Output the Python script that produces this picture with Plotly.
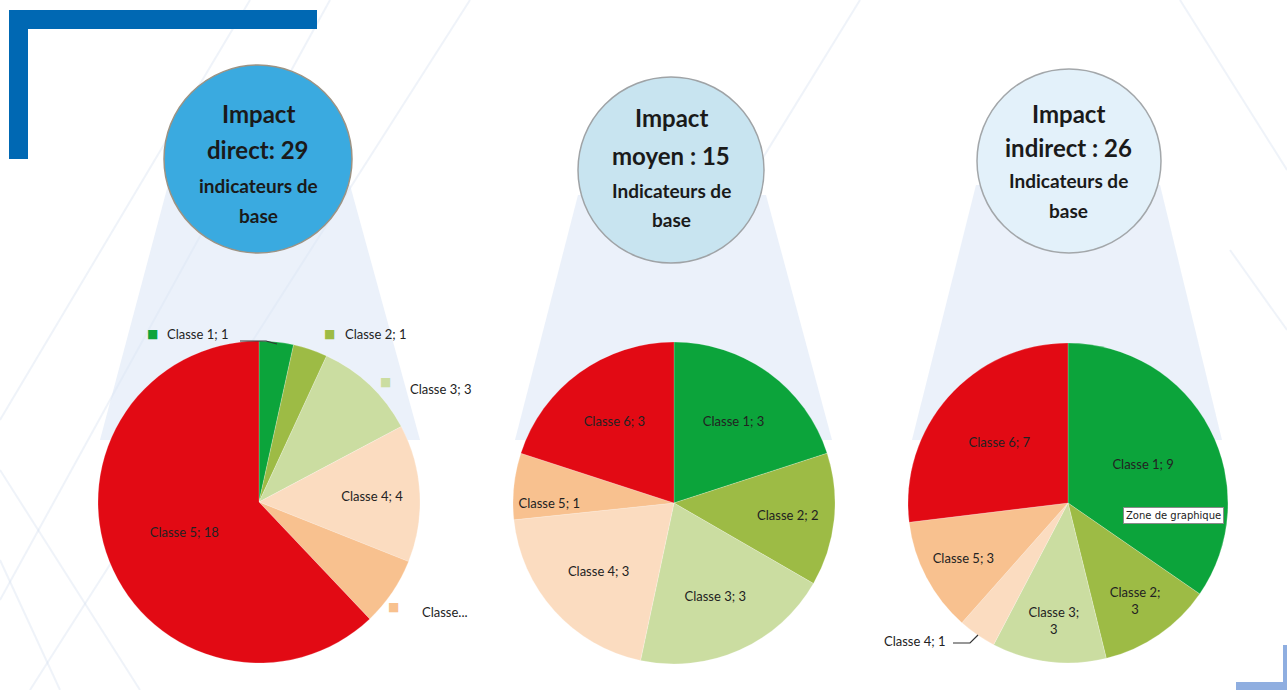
import plotly.graph_objects as go

W, H = 1287, 690

# ---------------- data ----------------
classes = ["Classe 1", "Classe 2", "Classe 3", "Classe 4", "Classe 5", "Classe 6"]
colors = ["#0CA43B", "#9DBB45", "#CBDDA1", "#FBDCC0", "#F8C18F", "#E20A14"]

values_direct = [1, 1, 3, 4, 2, 18]
labels_direct = ["Classe 1; 1", "Classe 2; 1", "Classe 3; 3", "Classe 4; 4", "Classe...", "Classe 5; 18"]
inside_direct = [False, False, False, True, False, True]

values_moyen = [3, 2, 3, 3, 1, 3]
labels_moyen = ["Classe 1; 3", "Classe 2; 2", "Classe 3; 3", "Classe 4; 3", "Classe 5; 1", "Classe 6; 3"]
inside_moyen = [True, True, True, True, True, True]

values_indirect = [9, 3, 3, 1, 3, 7]
labels_indirect = ["Classe 1; 9", "Classe 2;<br>3", "Classe 3;<br>3", "Classe 4; 1", "Classe 5; 3", "Classe 6; 7"]
inside_indirect = [True, True, True, False, True, True]

bubble_line1 = ["Impact", "Impact", "Impact"]
bubble_line2 = ["direct: 29", "moyen : 15", "indirect : 26"]
bubble_line3 = ["indicateurs de", "Indicateurs de", "Indicateurs de"]
bubble_line4 = ["base", "base", "base"]
tooltip_text = "Zone de graphique"

# ---------------- helpers ----------------
def px(x):
    return x / W

def py(y):
    return 1 - y / H

LABEL_FONT = dict(family="Lato, Liberation Sans, sans-serif", size=13, color="#222222")

fig = go.Figure()

pies = [
    (values_direct, labels_direct, inside_direct, (259, 502, 161)),
    (values_moyen, labels_moyen, inside_moyen, (674, 503, 161)),
    (values_indirect, labels_indirect, inside_indirect, (1068, 503, 160)),
]

for vals, labs, ins, (cx, cy, r) in pies:
    fig.add_trace(go.Pie(
        values=vals,
        labels=classes,
        text=[l if i else "" for l, i in zip(labs, ins)],
        texttemplate="%{text}",
        textposition="inside",
        insidetextorientation="horizontal",
        insidetextfont=LABEL_FONT,
        sort=False,
        direction="clockwise",
        rotation=0,
        marker=dict(colors=colors, line=dict(color="rgba(255,255,255,0.35)", width=0.6)),
        domain=dict(x=[px(cx - r), px(cx + r)], y=[py(cy + r), py(cy - r)]),
        hoverinfo="label+value",
        showlegend=False,
    ))

shapes = []

# faint background lines
bg_lines = [
    ((0, 600), (330, 0)), ((0, 420), (250, 0)), ((60, 690), (0, 560)),
    ((0, 470), (140, 690)), ((30, 690), (470, 0)), ((860, 0), (700, 260)),
    ((1180, 0), (1287, 170)), ((1230, 250), (1287, 330)),
]
for (x0, y0), (x1, y1) in bg_lines:
    shapes.append(dict(type="line", xref="paper", yref="paper", layer="below",
                       x0=px(x0), y0=py(y0), x1=px(x1), y1=py(y1),
                       line=dict(color="rgba(210,222,238,0.35)", width=2)))

# connector trapezoids (circle -> pie)
trapezoids = [
    [(168, 185), (350, 185), (420, 440), (100, 440)],
    [(578, 195), (766, 195), (832, 440), (515, 440)],
    [(976, 185), (1160, 185), (1222, 440), (912, 440)],
]
for poly in trapezoids:
    path = "M " + " L ".join(f"{px(x)},{py(y)}" for x, y in poly) + " Z"
    shapes.append(dict(type="path", xref="paper", yref="paper", layer="below", path=path,
                       fillcolor="rgba(218,230,245,0.55)", line=dict(width=0)))

# bubbles
bubbles = [
    ((258, 159, 94), "#3AAAE0", "#9C9384"),
    ((671, 170, 93), "#C8E4F0", "#9FA3A6"),
    ((1069, 161, 92), "#E3F1FA", "#A3A7AA"),
]
for (cx, cy, r), fc, lc in bubbles:
    shapes.append(dict(type="circle", xref="paper", yref="paper",
                       x0=px(cx - r), x1=px(cx + r), y0=py(cy + r), y1=py(cy - r),
                       fillcolor=fc, line=dict(color=lc, width=1.5)))

# corner brackets
shapes.append(dict(type="rect", xref="paper", yref="paper", x0=px(9), x1=px(317), y0=py(29), y1=py(10),
                   fillcolor="#0068B3", line=dict(width=0)))
shapes.append(dict(type="rect", xref="paper", yref="paper", x0=px(9), x1=px(28), y0=py(159), y1=py(10),
                   fillcolor="#0068B3", line=dict(width=0)))
shapes.append(dict(type="rect", xref="paper", yref="paper", x0=px(1236), x1=px(1287), y0=py(690), y1=py(682),
                   fillcolor="#8FAEE0", line=dict(width=0)))
shapes.append(dict(type="rect", xref="paper", yref="paper", x0=px(1283), x1=px(1287), y0=py(690), y1=py(645),
                   fillcolor="#8FAEE0", line=dict(width=0)))

# leader lines
shapes.append(dict(type="path", xref="paper", yref="paper",
                   path=f"M {px(240)},{py(341)} L {px(266)},{py(341)} L {px(277)},{py(344)}",
                   line=dict(color="#333333", width=1.2)))
shapes.append(dict(type="path", xref="paper", yref="paper",
                   path=f"M {px(953)},{py(643)} L {px(970)},{py(643)} L {px(978)},{py(635)}",
                   line=dict(color="#333333", width=1.2)))

annotations = []

def ann(text, x, y, font, xanchor="center", yanchor="middle", **kw):
    d = dict(text=text, x=px(x), y=py(y), xref="paper", yref="paper", showarrow=False,
             font=font, xanchor=xanchor, yanchor=yanchor, align="center")
    d.update(kw)
    annotations.append(d)

TITLE_FONT = dict(family="Lato, sans-serif", size=24, color="#1A1A1A")
SUB_FONT = dict(family="Lato, sans-serif", size=19, color="#1A1A1A")
bubble_x = [258, 671, 1068]
line_y = [(114, 150, 185, 216), (117, 155, 190, 220), (114, 147, 180, 210)]
for i, x in enumerate(bubble_x):
    y1, y2, y3, y4 = line_y[i]
    ann(f"<b>{bubble_line1[i]}</b>", x, y1, TITLE_FONT)
    ann(f"<b>{bubble_line2[i]}</b>", x, y2, TITLE_FONT)
    ann(f"<b>{bubble_line3[i]}</b>", x, y3, SUB_FONT)
    ann(f"<b>{bubble_line4[i]}</b>", x, y4, SUB_FONT)

# outside labels, pie 1 (with legend keys)
out_direct = {0: (152, 334), 1: (330, 334), 2: (385, 382), 4: (393, 607)}
text_offset = {0: (13, 0), 1: (13, 0), 2: (23, 7), 4: (27, 5)}
for i, (x, y) in out_direct.items():
    ann("■", x, y, dict(size=12, color=colors[i], family="DejaVu Sans"))
    dx, dy = text_offset[i]
    ann(labels_direct[i], x + dx, y + dy, LABEL_FONT, xanchor="left")

# outside label pie 3
ann(labels_indirect[3], 947, 641, LABEL_FONT, xanchor="right")

# "Zone de graphique" tooltip
ann(tooltip_text, 1173, 515, dict(family="DejaVu Sans, Arial", size=10, color="#222222"),
    bgcolor="#FFFFFF", bordercolor="#8A8A8A", borderwidth=1, borderpad=2)

fig.update_layout(
    width=W, height=H,
    margin=dict(l=0, r=0, t=0, b=0),
    paper_bgcolor="#FFFFFF",
    plot_bgcolor="#FFFFFF",
    shapes=shapes,
    annotations=annotations,
    showlegend=False,
    uniformtext=dict(minsize=13, mode="show"),
)

fig.write_html("out.html", config={"displayModeBar": False},
               post_script="document.body.style.margin='0';document.body.style.overflow='hidden';")
